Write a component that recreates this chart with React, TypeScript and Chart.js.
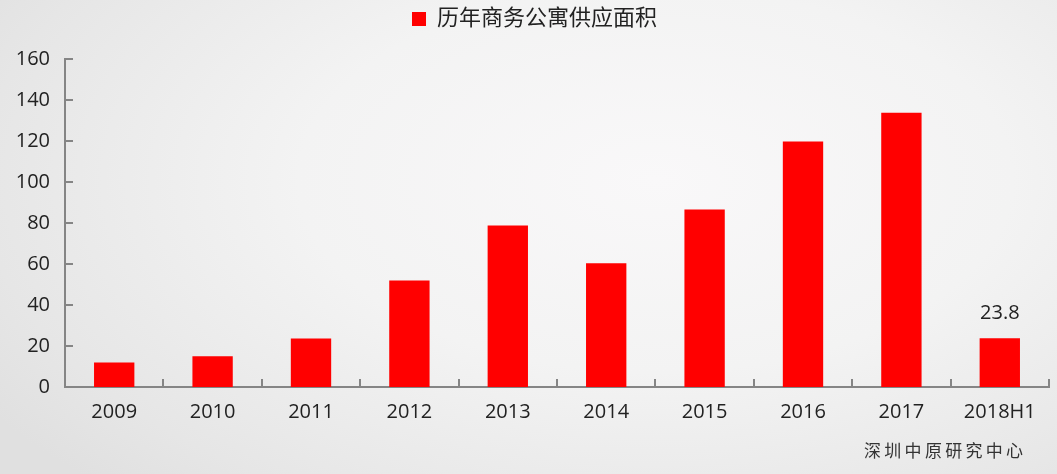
import React, { useEffect, useRef } from "react";
import { Chart, registerables } from "chart.js";

Chart.register(...registerables);

const categories = ["2009", "2010", "2011", "2012", "2013", "2014", "2015", "2016", "2017", "2018H1"];
const supplyValues = [12, 15, 23.7, 52, 78.8, 60.4, 86.6, 119.7, 133.8, 23.8];
const seriesLabel = "历年商务公寓供应面积";
const yTicksMax = 160;
const yTicksStep = 20;
const labelledIndex = [9];
const sourceText = "深圳中原研究中心";

const FONT = "'Open Sans', 'Noto Sans CJK SC', sans-serif";

const tickPlugin = {
  id: "innerTicks",
  beforeInit(chart: any) {
    const legend = chart.legend;
    if (legend) {
      const origFit = legend.fit;
      legend.fit = function () {
        origFit.call(this);
        this.height += 19;
      };
    }
  },
  afterLayout(chart: any) {
    const legend = chart.legend;
    if (legend) {
      legend.left += 10;
      legend.right += 10;
    }
  },
  afterDraw(chart: any) {
    const ctx = chart.ctx;
    const x = chart.scales.x;
    const y = chart.scales.y;
    const area = chart.chartArea;
    ctx.save();
    ctx.strokeStyle = "#858585";
    ctx.lineWidth = 2;
    ctx.beginPath();
    y.ticks.forEach((t: any) => {
      const py = Math.round(y.getPixelForValue(t.value));
      ctx.moveTo(area.left, py);
      ctx.lineTo(area.left + 8, py);
    });
    for (let i = 1; i <= categories.length; i++) {
      const px = Math.round(x.getPixelForValue(i - 0.5));
      ctx.moveTo(px, area.bottom);
      ctx.lineTo(px, area.bottom - 8);
    }
    ctx.stroke();

    // data labels
    const meta = chart.getDatasetMeta(0);
    ctx.fillStyle = "#222";
    ctx.font = `20px ${FONT}`;
    ctx.textAlign = "center";
    ctx.textBaseline = "middle";
    labelledIndex.forEach((i) => {
      const bar = meta.data[i];
      ctx.fillText(supplyValues[i].toFixed(1), bar.x, bar.y - 25);
    });
    ctx.restore();
  },
};

export default function App() {
  const canvasRef = useRef<HTMLCanvasElement | null>(null);

  useEffect(() => {
    if (!canvasRef.current) return;
    const chart = new Chart(canvasRef.current, {
      type: "bar",
      data: {
        labels: categories,
        datasets: [
          {
            label: seriesLabel,
            data: supplyValues,
            backgroundColor: "#ff0000",
            borderWidth: 0,
            barPercentage: 0.41,
            categoryPercentage: 1,
          },
        ],
      },
      options: {
        animation: false,
        responsive: false,
        devicePixelRatio: 1,
        layout: { padding: { left: 0, right: 8, top: 0, bottom: 0 } },
        plugins: {
          legend: {
            display: true,
            position: "top",
            labels: {
              boxWidth: 14,
              boxHeight: 14,
              padding: 8,
              color: "#222",
              font: { family: FONT, size: 22 },
            },
          },
          tooltip: { enabled: false },
        },
        scales: {
          x: {
            grid: { display: false, drawTicks: false, tickLength: 0 },
            border: { display: true, color: "#858585", width: 2 },
            ticks: {
              color: "#222",
              font: { family: FONT, size: 20 },
              padding: 13,
              maxRotation: 0,
              autoSkip: false,
            },
            afterFit(scale: any) {
              scale.height = 87;
            },
          },
          y: {
            min: 0,
            max: yTicksMax,
            grid: { display: false, drawTicks: false, tickLength: 0 },
            border: { display: true, color: "#858585", width: 2 },
            ticks: {
              stepSize: yTicksStep,
              color: "#222",
              font: { family: FONT, size: 20 },
              padding: 15,
            },
            afterFit(scale: any) {
              scale.width = 65;
            },
          },
        },
      },
      plugins: [tickPlugin],
    } as any);
    return () => chart.destroy();
  }, []);

  return (
    <div
      style={{
        position: "fixed",
        left: 0,
        top: 0,
        width: 1057,
        height: 474,
        background:
          "radial-gradient(ellipse 75% 90% at 62% 38%, #f9f8f9 0%, #f3f3f3 45%, #e6e6e6 85%, #e0e0e0 100%)",
        overflow: "hidden",
      }}
    >
      <canvas ref={canvasRef} width={1057} height={474} style={{ display: "block" }} />
      <div
        style={{
          position: "absolute",
          left: 864,
          top: 439,
          fontFamily: "'Noto Sans CJK SC', sans-serif",
          fontSize: 17,
          lineHeight: "22px",
          letterSpacing: "3.3px",
          color: "#333",
          whiteSpace: "nowrap",
        }}
      >
        {sourceText}
      </div>
    </div>
  );
}
